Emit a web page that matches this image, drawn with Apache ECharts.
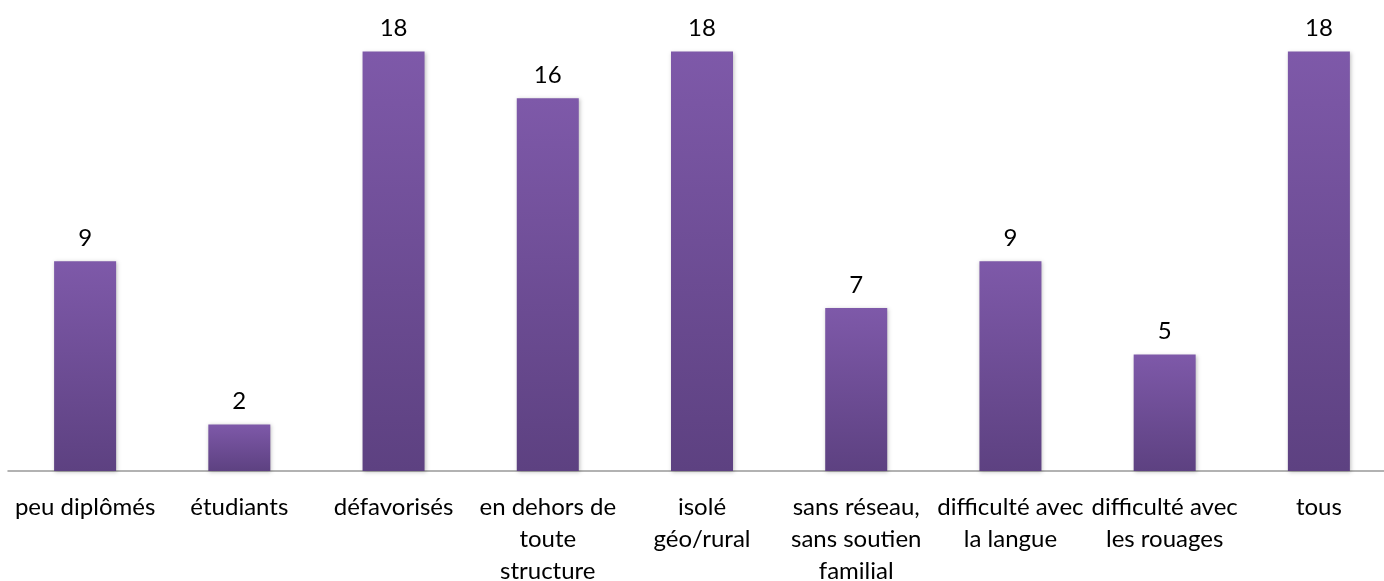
<!DOCTYPE html>
<html>
<head>
<meta charset="utf-8">
<script src="https://cdn.jsdelivr.net/npm/echarts@6/dist/echarts.min.js"></script>
<style>
  html, body { margin: 0; padding: 0; background: #fff; }
  #chart { width: 1384px; height: 581px; }
</style>
</head>
<body>
<div id="chart"></div>
<script>
const categories = [
  "peu diplômés",
  "étudiants",
  "défavorisés",
  "en dehors de\ntoute\nstructure",
  "isolé\ngéo/rural",
  "sans réseau,\nsans soutien\nfamilial",
  "difficulté avec\nla langue",
  "difficulté avec\nles rouages",
  "tous"
];
const values = [9, 2, 18, 16, 18, 7, 9, 5, 18];

const chart = echarts.init(document.getElementById("chart"));

const option = {
  animation: false,
  grid: { left: 8, right: -12, top: 5, bottom: 110, outerBoundsMode: "none", containLabel: false },
  xAxis: {
    type: "category",
    data: categories,
    axisLine: { lineStyle: { color: "#999999", width: 1.5 } },
    axisTick: { show: false },
    axisLabel: {
      interval: 0,
      margin: 20,
      color: "#000",
      fontFamily: "Lato",
      fontSize: 24,
      lineHeight: 32
    }
  },
  yAxis: {
    type: "value",
    min: 0,
    max: 20,
    show: false
  },
  series: [
    {
      type: "bar",
      data: values,
      barWidth: 62,
      itemStyle: {
        color: new echarts.graphic.LinearGradient(0, 0, 0, 1, [
          { offset: 0, color: "#7e59a9" },
          { offset: 1, color: "#5d4181" }
        ]),
        shadowColor: "rgba(0,0,0,0.25)",
        shadowBlur: 4,
        shadowOffsetX: 1,
        shadowOffsetY: 1
      },
      label: {
        show: true,
        position: "top",
        distance: 11,
        color: "#000",
        fontFamily: "Lato",
        fontSize: 24
      }
    }
  ]
};

chart.setOption(option);
</script>
</body>
</html>
